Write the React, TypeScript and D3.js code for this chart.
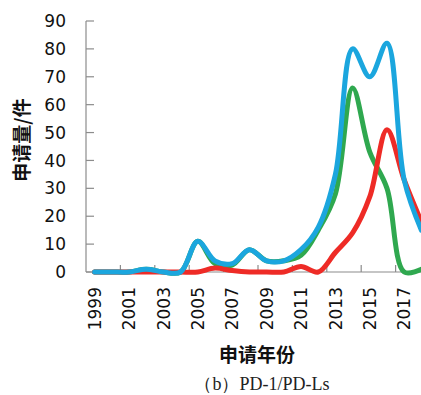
import React from "react";
import * as d3 from "d3";

const years = [
  "1999", "2000", "2001", "2002", "2003", "2004", "2005", "2006", "2007", "2008",
  "2009", "2010", "2011", "2012", "2013", "2014", "2015", "2016", "2017", "2018",
];
const greenVals = [0, 0, 0, 1, 0, 0, 11, 3, 2.5, 8, 4, 4, 6, 15, 28, 66, 43, 30, 0, 1];
const redVals = [0, 0, 0, 0, 0, 0, 0, 1.4, 0.5, 0, 0, 0, 2, 0, 7, 14, 27, 51, 33, 18];
const blueVals = [0, 0, 0, 1, 0, 0, 11, 4, 3, 8, 4, 4, 8, 16, 35, 80, 70, 82, 33, 15];
const yTicks = [0, 10, 20, 30, 40, 50, 60, 70, 80, 90];
const labelYears = ["1999", "2001", "2003", "2005", "2007", "2009", "2011", "2013", "2015", "2017"];

const W = 421;
const H = 395;
const left = 86;
const top = 21;
const bottom = 272;

export default function App() {
  const x = d3.scaleBand<string>().domain(years).range([left, 430]).paddingInner(0);
  const y = d3.scaleLinear().domain([0, 90]).range([bottom, top]);
  const cx = (yr: string) => (x(yr) ?? 0) + x.bandwidth() / 2;

  const line = d3
    .line<number>()
    .x((_, i) => cx(years[i]))
    .y((d) => y(d))
    .curve(d3.curveCatmullRom.alpha(0.5));

  const series = [
    { vals: greenVals, color: "#2fa84f" },
    { vals: redVals, color: "#ee2b26" },
    { vals: blueVals, color: "#1ba6de" },
  ];

  // ticks sit between categories, every second one
  const xTickPos = years
    .filter((_, i) => i % 2 === 1)
    .map((yr) => (x(yr) ?? 0) + x.bandwidth());

  const font = "'DejaVu Sans', Verdana, sans-serif";
  const cjk = "'Noto Sans CJK SC', sans-serif";

  return (
    <svg width={W} height={H} style={{ position: "absolute", left: 0, top: 0, background: "#fff" }}>
      <defs>
        <clipPath id="plot">
          <rect x={left} y={0} width={W - left} height={bottom + 6} />
        </clipPath>
      </defs>

      {/* axes */}
      <line x1={left} x2={left} y1={top} y2={bottom} stroke="#8c8c8c" strokeWidth={1.2} />
      <line x1={left} x2={W} y1={bottom} y2={bottom} stroke="#8c8c8c" strokeWidth={1.2} />
      {yTicks.map((t) => (
        <g key={t}>
          <line x1={left} x2={left + 8} y1={y(t)} y2={y(t)} stroke="#8c8c8c" strokeWidth={1.2} />
          <text
            x={66}
            y={y(t)}
            dy="0.36em"
            textAnchor="end"
            fontFamily={font}
            fontSize={17}
            fill="#111"
          >
            {t}
          </text>
        </g>
      ))}
      {xTickPos.map((p, i) => (
        <line key={i} x1={p} x2={p} y1={bottom} y2={bottom - 7} stroke="#8c8c8c" strokeWidth={1.2} />
      ))}
      {labelYears.map((yr) => (
        <text
          key={yr}
          transform={`translate(${cx(yr)},287) rotate(-90)`}
          dy="0.36em"
          textAnchor="end"
          fontFamily={font}
          fontSize={17}
          fill="#111"
        >
          {yr}
        </text>
      ))}

      {/* lines */}
      <g clipPath="url(#plot)">
        {series.map((s, i) => (
          <path
            key={i}
            d={line(s.vals) || undefined}
            fill="none"
            stroke={s.color}
            strokeWidth={5}
            strokeLinecap="round"
            strokeLinejoin="round"
          />
        ))}
      </g>

      {/* titles */}
      <text
        transform="translate(22,140) rotate(-90)"
        dy="0.36em"
        textAnchor="middle"
        fontFamily={cjk}
        fontWeight="bold"
        fontSize={19}
        fill="#111"
      >
        申请量/件
      </text>
      <text x={257} y={362} textAnchor="middle" fontFamily={cjk} fontWeight="bold" fontSize={19} fill="#111">
        申请年份
      </text>
      <text
        x={262}
        y={390}
        textAnchor="middle"
        fontFamily="'Liberation Serif', 'Times New Roman', serif"
        fontSize={18}
        fill="#222"
      >
        （b）PD-1/PD-Ls
      </text>
    </svg>
  );
}
